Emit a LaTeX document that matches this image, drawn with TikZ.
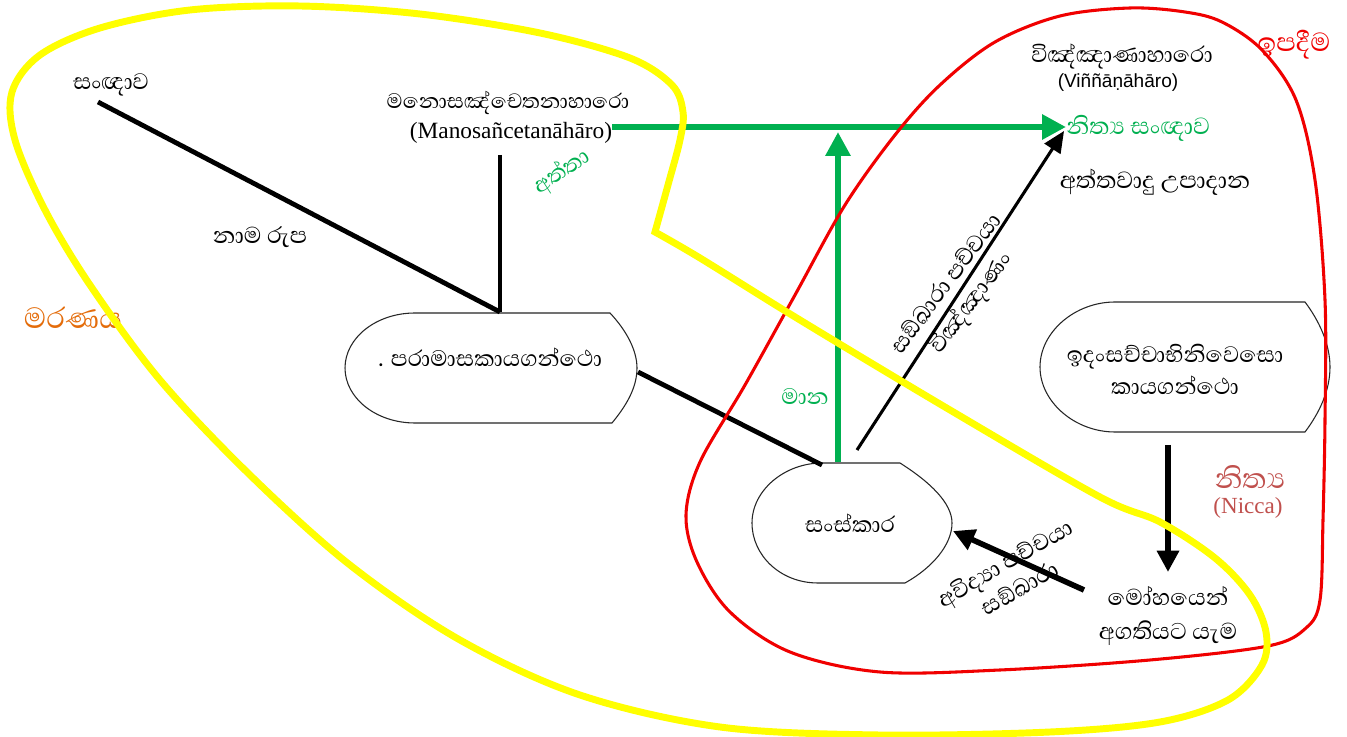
\documentclass[tikz,border=0pt]{standalone}
\usepackage{fontspec}
\newfontfamily\sinhf[Script=Sinhala]{Abhaya Libre}
\newfontfamily\tnr{Liberation Serif}
\newfontfamily\ars{Liberation Sans}
\usetikzlibrary{arrows.meta}
\definecolor{ylw}{HTML}{FFFF00}
\definecolor{rd}{HTML}{F00000}
\definecolor{grn}{HTML}{00B050}
\definecolor{org}{HTML}{E46C0A}
\definecolor{brn}{HTML}{C0504D}
\tikzset{
  lbl/.style={font=\sinhf\fontsize{21.5}{24}\selectfont, inner sep=0pt, align=center},
  shp/.style={draw=black!85, line width=0.8pt},
  blk/.style={draw=black, line width=3.6pt},
  blkthin/.style={draw=black, line width=2.3pt},
  grnarrow/.style={draw=grn, line width=4.8pt, -{Triangle[length=18pt,width=18pt]}},
  blkarrow/.style={draw=black, line width=4.2pt, -{Triangle[length=16pt,width=16pt]}},
  blkthinarrow/.style={draw=black, line width=2.3pt, -{Triangle[length=16pt,width=14pt]}},
  yloop/.style={draw=ylw, line width=5.2pt, line join=miter},
  rloop/.style={draw=rd, line width=2.3pt},
}
\begin{document}
\begin{tikzpicture}[x=0.75pt,y=-0.75pt]
\useasboundingbox (0,0) rectangle (1347,737);
\fill[white] (0,0) rectangle (1347,737);

% ---------- shapes ----------
\draw[shp] (415,313) -- (610,313) .. controls (626,330) and (637,350) .. (637,368)
  .. controls (637,388) and (626,406) .. (612,423) -- (415,423)
  .. controls (376,423) and (345,398) .. (345,368)
  .. controls (345,338) and (376,313) .. (415,313) -- cycle;
\node[lbl] (n1) at (490,357) {. පරාමාසකායගන්ථො};

\draw[shp] (822,463) -- (900,463) .. controls (930,482) and (952,503) .. (952,523)
  .. controls (952,545) and (932,568) .. (905,583) -- (818,583)
  .. controls (780,583) and (752,555) .. (752,523)
  .. controls (752,490) and (785,463) .. (822,463) -- cycle;
\node[lbl] (n2) at (850,523) {සංස්කාර};

\draw[shp] (1115,302) -- (1305,302) .. controls (1320,322) and (1330,345) .. (1330,367)
  .. controls (1330,390) and (1320,412) .. (1305,432) -- (1115,432)
  .. controls (1075,432) and (1040,402) .. (1040,367)
  .. controls (1040,332) and (1075,302) .. (1115,302) -- cycle;
\node[lbl, font=\sinhf\fontsize{21.5}{24}\selectfont] (n3) at (1175,369) {ඉදංසච්චාභිනිවෙසො\\කායගන්ථො};

% ---------- texts ----------
\node[lbl] (sanna) at (111,85) {සංඥාව};
\node[lbl, font=\sinhf\fontsize{20}{24}\selectfont] (mano) at (508,103) {මනොසඤ්චෙතනාහාරො};
\node[inner sep=0pt, font=\tnr\fontsize{17.5}{20}\selectfont] (manolat) at (511,133) {(Manosañcetanāhāro)};
\node[lbl, text=grn, rotate=33] (atta) at (562,172) {අත්තා};
\node[lbl, font=\sinhf\fontsize{22}{24}\selectfont] (namarupa) at (260,237) {නාම රුප};
\node[lbl, text=org, font=\sinhf\fontsize{28}{30}\selectfont] (marana) at (73,318) {මරණය};
\node[lbl, text=grn] (mana) at (805,397) {මාන};
\node[lbl] (vinn) at (1122,57) {විඤ්ඤාණාහාරො};
\node[inner sep=0pt, font=\ars\fontsize{14.3}{16}\selectfont] (vinnlat) at (1118,83) {(Viññāṇāhāro)};
\node[lbl, text=grn, anchor=west, font=\sinhf\fontsize{22.5}{24}\selectfont] (nicsanna) at (1066,128) {නිත්‍ය සංඥාව};
\node[lbl, font=\sinhf\fontsize{22.5}{24}\selectfont] (attavada) at (1155,182) {අත්තවාදු උපාදාන};
\node[lbl, text=rd, font=\sinhf\fontsize{25}{28}\selectfont] (upadima) at (1294,45) {ඉපදීම};
\node[lbl, text=brn, font=\sinhf\fontsize{27}{30}\selectfont] (nicca) at (1250,477) {නිත්‍ය};
\node[inner sep=0pt, text=brn, font=\tnr\fontsize{17.3}{20}\selectfont] (niccalat) at (1248,508) {(Nicca)};
\node[lbl, font=\sinhf\fontsize{22}{25}\selectfont] (moha) at (1168,616) {මෝහයෙන්\\අගතියට යැම};
\node[lbl, rotate=53, font=\sinhf\fontsize{22}{23}\selectfont] (sankpacc) at (960,294) {සඞ්ඛාරා පච්චයා\\විඤ්ඤාණං};
\node[lbl, rotate=30, font=\sinhf\fontsize{22}{22}\selectfont] (avijja) at (1012,575) {අවිද්‍යා පච්චයා\\සඞ්ඛාරා};

% ---------- connector end points ----------
\coordinate (s1) at (98,102);
\coordinate (n1top) at (500,312);
\coordinate (m1) at (500,155);
\coordinate (n1right) at (638,372);
\coordinate (n2tl) at (822,465);
\coordinate (mr) at (612,127);
\coordinate (gtip) at (1066,127);
\coordinate (n2top) at (838,462);
\coordinate (vtip) at (838,132);
\coordinate (d1) at (857,450);
\coordinate (dtip) at (1064,131);
\coordinate (n3bot) at (1168,445);
\coordinate (mohatop) at (1168,572);
\coordinate (mohaleft) at (1084,590);
\coordinate (n2right) at (953,531);

% ---------- connectors ----------
\draw[blk] (s1) -- (n1top);
\draw[blkthin] (m1) -- (n1top);
\draw[blk] (n1right) -- (n2tl);
\draw[grnarrow] (mr) -- (gtip);
\draw[grnarrow] (n2top) -- (vtip);
\draw[blkthinarrow] (d1) -- (dtip);
\draw[blkarrow] (n3bot) -- (mohatop);
\draw[blkarrow] (mohaleft) -- (n2right);

% ---------- outlines ----------
\draw[rloop] plot[smooth cycle, tension=0.55] coordinates {
  (700,462) (745,385) (795,295) (845,205) (895,135) (940,85) (995,42) (1060,16)
  (1130,8) (1185,12) (1222,22) (1262,50) (1296,100) (1315,180) (1325,300) (1325,420)
  (1323,520) (1320,600) (1306,628) (1268,646) (1150,660) (1000,670) (880,672)
  (790,652) (730,612) (697,562) (686,515)};
\draw[yloop] plot[smooth, tension=0.55] coordinates {
  (655,232) (668,185) (680,140) (683,112) (672,85) (630,58) (540,33) (420,14)
  (300,6) (190,10) (100,28) (40,55) (12,92) (15,140) (45,210) (90,285) (160,380)
  (250,475) (350,565) (460,640) (580,695) (720,727) (880,735) (1050,732)
  (1160,722) (1228,700) (1262,665) (1266,632) (1250,595) (1215,558) (1160,522)
  (1100,497) (950,410) (800,320) (700,258) (655,232)} -- cycle;
\end{tikzpicture}
\end{document}
